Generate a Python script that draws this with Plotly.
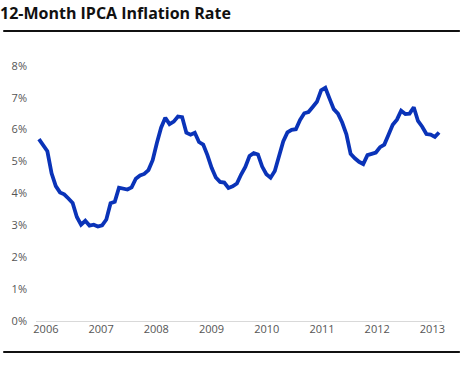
import plotly.graph_objects as go

months = list(range(96))  # Jan 2006 .. Dec 2013
ipca = [
    5.70, 5.51, 5.32, 4.63, 4.23, 4.03, 3.97, 3.84, 3.70, 3.26, 3.02, 3.14,
    2.99, 3.02, 2.96, 3.00, 3.18, 3.69, 3.74, 4.18, 4.15, 4.12, 4.19, 4.46,
    4.56, 4.61, 4.73, 5.04, 5.58, 6.06, 6.37, 6.17, 6.25, 6.41, 6.39, 5.90,
    5.84, 5.90, 5.61, 5.53, 5.20, 4.80, 4.50, 4.36, 4.34, 4.17, 4.22, 4.31,
    4.59, 4.83, 5.17, 5.26, 5.22, 4.84, 4.60, 4.49, 4.70, 5.20, 5.63, 5.91,
    5.99, 6.01, 6.30, 6.51, 6.55, 6.71, 6.87, 7.23, 7.31, 6.97, 6.64, 6.50,
    6.22, 5.85, 5.24, 5.10, 4.99, 4.92, 5.20, 5.24, 5.28, 5.45, 5.53, 5.84,
    6.15, 6.31, 6.59, 6.49, 6.50, 6.70, 6.27, 6.09, 5.86, 5.84, 5.77, 5.91,
]
year_labels = ["2006", "2007", "2008", "2009", "2010", "2011", "2012", "2013"]
year_tickvals = [1.65 + 13.11 * i for i in range(len(year_labels))]
y_tickvals = [0, 1, 2, 3, 4, 5, 6, 7, 8]
y_ticklabels = [f"{v}%" for v in y_tickvals]

fig = go.Figure()
fig.add_trace(go.Scatter(
    x=months, y=ipca, mode="lines",
    line=dict(color="#0a33b8", width=3.8),
    hoverinfo="skip",
))

W, H = 460, 365
ml, mr, mt, mb = 33, 18, 53, 44
pw, ph = W - ml - mr, H - mt - mb

fig.update_layout(
    width=W, height=H,
    margin=dict(l=ml, r=mr, t=mt, b=mb),
    paper_bgcolor="white", plot_bgcolor="white",
    showlegend=False,
    hovermode=False,
    font=dict(family="Open Sans, sans-serif", color="#555555", size=11),
    title=dict(
        text="<b>12-Month IPCA Inflation Rate</b>",
        x=0.0, xref="container", xanchor="left",
        y=1 - 13 / H, yref="container", yanchor="middle",
        font=dict(family="Open Sans, sans-serif", size=16, color="#111111"),
    ),
    xaxis=dict(
        range=[-0.7, 95.7], tickvals=year_tickvals, ticktext=year_labels,
        showgrid=False, zeroline=False, showline=False, ticks="",
        tickfont=dict(size=11, color="#555555"),
    ),
    yaxis=dict(
        range=[0, 8.4], tickvals=y_tickvals, ticktext=y_ticklabels,
        showgrid=False, zeroline=True, zerolinecolor="#d9d9d9", zerolinewidth=1,
        showline=False, ticks="", ticklabelstandoff=8,
        tickfont=dict(size=11, color="#555555"),
    ),
    shapes=[
        dict(type="line", xref="paper", yref="paper",
             x0=-ml / pw, x1=1 + mr / pw,
             y0=1 + (mt - 31) / ph, y1=1 + (mt - 31) / ph,
             line=dict(color="#111111", width=2)),
        dict(type="line", xref="paper", yref="paper",
             x0=-ml / pw, x1=1 + mr / pw,
             y0=-(352 - (H - mb)) / ph, y1=-(352 - (H - mb)) / ph,
             line=dict(color="#111111", width=2)),
    ],
)

fig.write_html("out.html", config={"displayModeBar": False},
               post_script="document.body.style.margin='0';")
